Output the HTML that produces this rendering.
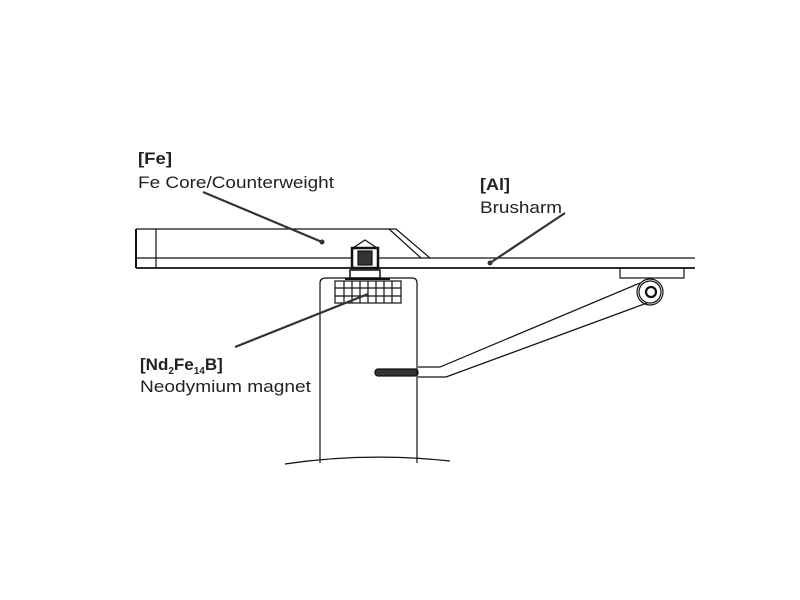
<!DOCTYPE html>
<html><head><style>
html,body{margin:0;padding:0;background:#fff;}
svg{display:block;}
text{font-family:"Liberation Sans",sans-serif;fill:#222;font-size:17px;}
.b{font-weight:bold;}
</style></head><body>
<svg width="800" height="600" viewBox="0 0 800 600" xmlns="http://www.w3.org/2000/svg">
<g fill="none" stroke="#111" stroke-width="1.2">
<path d="M136 229 H396 L430 258"/>
<path d="M389 229 L421 258"/>
<line x1="136" y1="229" x2="136" y2="268" stroke-width="2"/>
<line x1="156" y1="229" x2="156" y2="268"/>
<line x1="136" y1="258" x2="695" y2="258"/>
<line x1="136" y1="268" x2="695" y2="268" stroke-width="1.8"/>
<rect x="620" y="268" width="64" height="10"/>
<circle cx="650" cy="292" r="13"/>
<circle cx="650" cy="292" r="11"/>
<circle cx="651" cy="292" r="5" stroke-width="2.2"/>
<path d="M640 283 L440 367 H418"/>
<path d="M647 303 L446 377 H418"/>
<rect x="375" y="369" width="43" height="7" rx="3" fill="#333"/>
<path d="M320 463 V283 Q320 278 326 278 H412 Q417 278 417 283 V463"/>
<path d="M285 464 Q365 452 450 461"/>
<rect x="335" y="281" width="66" height="22"/>
<line x1="335" y1="288" x2="401" y2="288"/>
<line x1="335" y1="296" x2="401" y2="296"/>
<line x1="344" y1="281" x2="344" y2="303"/>
<line x1="352" y1="281" x2="352" y2="303"/>
<line x1="360" y1="281" x2="360" y2="303"/>
<line x1="368" y1="281" x2="368" y2="303"/>
<line x1="376" y1="281" x2="376" y2="303"/>
<line x1="384" y1="281" x2="384" y2="303"/>
<line x1="392" y1="281" x2="392" y2="303"/>
<path d="M353 248 L365 240 L377 248 Z"/>
<rect x="352" y="248" width="26" height="20" fill="#fff" stroke-width="2.5"/>
<rect x="358" y="251" width="14" height="14" fill="#333"/>
<rect x="350" y="270" width="30" height="8" fill="#fff" stroke-width="1.5"/>
<line x1="345" y1="279" x2="390" y2="279" stroke-width="2"/>
</g>
<g stroke="#333" stroke-width="2.2">
<line x1="203" y1="192" x2="322" y2="242"/>
<line x1="565" y1="213" x2="490" y2="263"/>
<line x1="235" y1="347" x2="368" y2="294"/>
</g>
<circle cx="322" cy="242" r="2.5" fill="#333"/>
<circle cx="490" cy="263" r="2.5" fill="#333"/>
<text x="138" y="164" class="b" textLength="34" lengthAdjust="spacingAndGlyphs">[Fe]</text>
<text x="138" y="188" textLength="196" lengthAdjust="spacingAndGlyphs">Fe Core/Counterweight</text>
<text x="480" y="190" class="b" textLength="30" lengthAdjust="spacingAndGlyphs">[Al]</text>
<text x="480" y="213" textLength="82" lengthAdjust="spacingAndGlyphs">Brusharm</text>
<text x="140" y="370" class="b">[Nd<tspan font-size="10" dy="4">2</tspan><tspan dy="-4">Fe</tspan><tspan font-size="10" dy="4">14</tspan><tspan dy="-4">B]</tspan></text>
<text x="140" y="392" textLength="171" lengthAdjust="spacingAndGlyphs">Neodymium magnet</text>
</svg>
</body></html>
